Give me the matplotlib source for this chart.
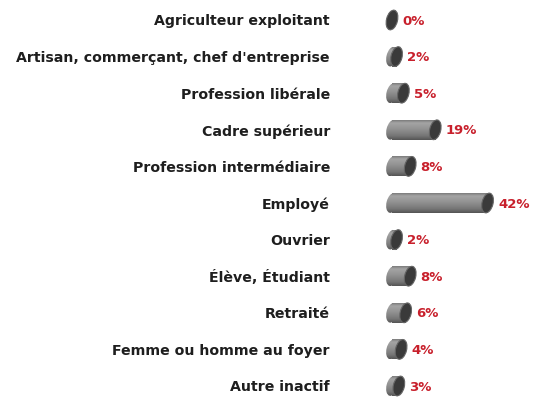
import matplotlib
matplotlib.use("Agg")
import matplotlib.pyplot as plt
import numpy as np
from matplotlib.patches import Ellipse
from matplotlib.colors import LinearSegmentedColormap
from matplotlib.transforms import ScaledTranslation, IdentityTransform

categories = [
    "Agriculteur exploitant",
    "Artisan, commerçant, chef d'entreprise",
    "Profession libérale",
    "Cadre supérieur",
    "Profession intermédiaire",
    "Employé",
    "Ouvrier",
    "Élève, Étudiant",
    "Retraité",
    "Femme ou homme au foyer",
    "Autre inactif",
]
values = [0, 2, 5, 19, 8, 42, 2, 8, 6, 4, 3]
value_labels = ["0%", "2%", "5%", "19%", "8%", "42%", "2%", "8%", "6%", "4%", "3%"]

W, H, DPI = 534, 399, 100
fig = plt.figure(figsize=(W / DPI, H / DPI), dpi=DPI)
fig.patch.set_facecolor("white")

# axes geometry in pixels
ax_left_px = 370
zero_px = 392
px_per_unit = 2.275
row_first, row_step = 20, 36.6
n = len(categories)

ax = fig.add_axes([ax_left_px / W, 0, (W - ax_left_px) / W, 1])
xmin = -(zero_px - ax_left_px) / px_per_unit
xmax = (W - zero_px) / px_per_unit
ymin = -row_first / row_step
ymax = (n - 1) + (H - (row_first + (n - 1) * row_step)) / row_step
ax.set_xlim(xmin, xmax)
ax.set_ylim(ymax, ymin)
for s in ax.spines.values():
    s.set_visible(False)
ax.set_xticks([])
ax.set_yticks(range(n))
ax.set_yticklabels(categories, fontsize=10.2, fontweight="bold", color="#1e1e1e")
ax.tick_params(axis="y", length=0, pad=(ax_left_px - 330) * 72 / DPI)

bar_h = 0.55
cap_w_px = 11
cap_h_px = bar_h * row_step
cap_angle = -14

body_cmap = LinearSegmentedColormap.from_list(
    "body", [(0.0, "#6e6e6e"), (0.18, "#a4a4a4"), (0.45, "#949494"),
             (0.8, "#767676"), (1.0, "#555555")])
grad = body_cmap(np.linspace(0, 1, 64))[:, None, :3]


def cap(x, y, **kw):
    """Tilted elliptical end of a cylinder, sized in pixels, anchored at data (x, y)."""
    tr = IdentityTransform() + ScaledTranslation(x, y, ax.transData)
    e = Ellipse((0, 0), cap_w_px, cap_h_px, angle=cap_angle, transform=tr, **kw)
    ax.add_patch(e)
    return e


bars = ax.barh(range(n), values, height=bar_h, color="none", edgecolor="none")
cap_w = cap_w_px / px_per_unit
for i, (rect, v) in enumerate(zip(bars, values)):
    top, bot = i - bar_h / 2, i + bar_h / 2
    # rounded back end
    back = cap(0, i, facecolor="none", edgecolor="none")
    im = ax.imshow(grad, extent=(-cap_w, 0.01, bot, top), aspect="auto",
                   interpolation="bilinear", zorder=2)
    im.set_clip_path(back)
    if v > 0:
        im2 = ax.imshow(grad, extent=(0, v, bot, top), aspect="auto",
                        interpolation="bilinear", zorder=2)
        im2.set_clip_path(rect)
    # front cap
    cap(v, i, facecolor="#3a3a3a", edgecolor="#666666", linewidth=0.8, zorder=3)
    ax.text(v + cap_w / 2 + 5 / px_per_unit, i + 0.03, value_labels[i],
            fontsize=9.5, fontweight="bold", color="#c8202c",
            va="center", ha="left", zorder=4)

ax.set_xlim(xmin, xmax)
ax.set_ylim(ymax, ymin)

fig.savefig("out.png", dpi=DPI, facecolor="white")
